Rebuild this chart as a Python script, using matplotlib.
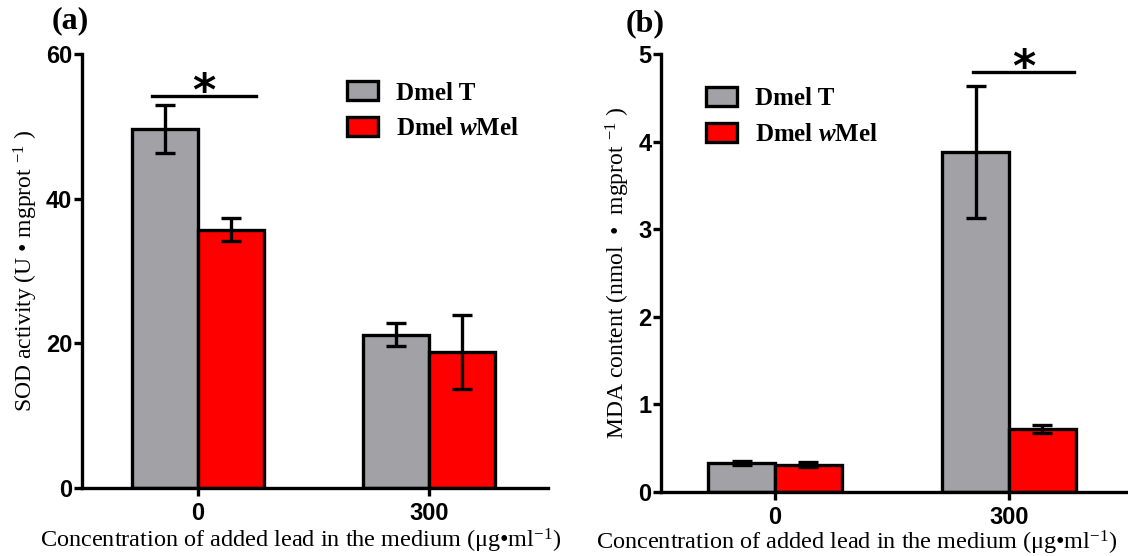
import numpy as np
import matplotlib
matplotlib.use("Agg")
import matplotlib.pyplot as plt

plt.rcParams['mathtext.fontset'] = 'custom'
plt.rcParams['mathtext.rm'] = 'Liberation Serif'
plt.rcParams['mathtext.it'] = 'Liberation Serif:italic:bold'
plt.rcParams['mathtext.bf'] = 'Liberation Serif:bold'

# data
groups = ["0", "300"]
series = ["Dmel T", "Dmel $\\mathit{w}$Mel"]
colors = ["#a2a1a6", "#ff0000"]

sod_mean = [[49.6, 21.2], [35.7, 18.8]]
sod_err = [[3.3, 1.6], [1.6, 5.1]]
mda_mean = [[0.33, 3.88], [0.31, 0.72]]
mda_err = [[0.02, 0.75], [0.03, 0.05]]

sig_a = (-0.2, 0.25, 54.2)
sig_b = (0.846, 1.278, 4.79)

xlabel = "Concentration of added lead in the medium (\u03bcg\u2022ml$^{\\mathrm{-1}}$)"
ylabels = ["SOD activity (U \u2022 mgprot $^{\\mathrm{-1}}$ )",
           "MDA content (nmol  \u2022  mgprot $^{\\mathrm{-1}}$ )"]

fig = plt.figure(figsize=(11.28, 5.56), dpi=100)
ax_a = fig.add_axes([0.0727, 0.1223, 0.413, 0.7806])
ax_b = fig.add_axes([0.586, 0.1151, 0.414, 0.7878])

w = 0.285
x = np.arange(len(groups))


def draw(ax, means, errs, ymax, yticks, ylabel, sig, xlim, leg_anchor, label_xy):
    for i in range(2):
        pos = x - w / 2 if i == 0 else x + w / 2
        ax.bar(pos, means[i], width=w, color=colors[i], edgecolor="black",
               linewidth=2.4, label=series[i], zorder=2)
        ax.errorbar(pos, means[i], yerr=errs[i], fmt="none", ecolor="black",
                    elinewidth=2.4, capsize=7, capthick=2.4, zorder=3)
    ax.set_xlim(*xlim)
    ax.set_ylim(0, ymax)
    ax.set_yticks(yticks)
    ax.set_xticks(x)
    ax.set_xticklabels(groups)
    for s in ["top", "right"]:
        ax.spines[s].set_visible(False)
    for s in ["left", "bottom"]:
        ax.spines[s].set_linewidth(2.4)
    ax.tick_params(width=2.4, length=6, labelsize=17, pad=1)
    ax.tick_params(axis="x", pad=4)
    for t in ax.get_xticklabels() + ax.get_yticklabels():
        t.set_fontfamily("Liberation Sans")
        t.set_fontweight("bold")
    ax.set_ylabel(ylabel, fontsize=17, family="Liberation Serif", labelpad=4)
    ax.set_xlabel(xlabel, fontsize=17.5, family="Liberation Serif")
    ax.xaxis.set_label_coords(*label_xy)
    x0, x1, y = sig
    ax.plot([x0, x1], [y, y], color="black", lw=2.4, clip_on=False)
    ax.annotate("*", xy=((x0 + x1) / 2, y), xytext=(0, -6.5), textcoords="offset points",
                ha="center", va="baseline", fontsize=32, fontweight="bold",
                family="DejaVu Sans")
    leg = ax.legend(loc="upper left", bbox_to_anchor=leg_anchor, frameon=False,
                    prop={"family": "Liberation Serif", "weight": "bold", "size": 18},
                    handlelength=1.25, handleheight=0.8, handletextpad=0.7,
                    labelspacing=0.5, borderaxespad=0)
    for p in leg.get_patches():
        p.set_linewidth(2.4)


draw(ax_a, sod_mean, sod_err, 60, [0, 20, 40, 60], ylabels[0], sig_a,
     (-0.502, 1.515), (0.547, 0.96), (0.47, -0.09))
draw(ax_b, mda_mean, mda_err, 5, [0, 1, 2, 3, 4, 5], ylabels[1], sig_b,
     (-0.487, 1.508), (0.075, 0.948), (0.42, -0.085))

fig.text(0.046, 0.962, "(a)", fontsize=23, fontweight="bold", family="Liberation Serif", va="center")
fig.text(0.555, 0.958, "(b)", fontsize=23, fontweight="bold", family="Liberation Serif", va="center")

fig.savefig("out.png", dpi=100)
